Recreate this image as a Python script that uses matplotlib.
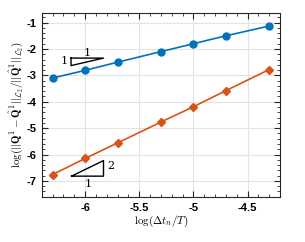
import matplotlib
matplotlib.use("Agg")
import matplotlib.pyplot as plt
from matplotlib.ticker import MultipleLocator

# log10(dt/T) values
log_dt = [-6.30, -6.00, -5.70, -5.30, -5.00, -4.70, -4.30]
err_blue = [-3.10, -2.81, -2.50, -2.10, -1.80, -1.50, -1.13]
err_orange = [-6.76, -6.15, -5.56, -4.77, -4.19, -3.58, -2.78]

x_ticks = [-6, -5.5, -5, -4.5]
x_tick_labels = ["-6", "-5.5", "-5", "-4.5"]
y_ticks = [-7, -6, -5, -4, -3, -2, -1]
y_tick_labels = ["-7", "-6", "-5", "-4", "-3", "-2", "-1"]

plt.rcParams["mathtext.fontset"] = "cm"

fig = plt.figure(figsize=(3.05, 2.42), dpi=100)
ax = fig.add_axes([0.137, 0.186, 0.781, 0.762])

ax.plot(log_dt, err_blue, color="#0072BD", marker="o", markersize=5, lw=1.2)
ax.plot(log_dt, err_orange, color="#D95319", marker="D", markersize=4.2, lw=1.2)

# slope triangles
ax.plot([-6.13, -5.83, -6.13, -6.13], [-2.345, -2.345, -2.63, -2.345], color="k", lw=1)
ax.text(-5.98, -2.15, "1", fontsize=8, family="DejaVu Serif", ha="center", va="center")
ax.text(-6.19, -2.46, "1", fontsize=8, family="DejaVu Serif", ha="center", va="center")
ax.plot([-6.125, -5.83, -5.83, -6.125], [-6.82, -6.82, -6.23, -6.82], color="k", lw=1)
ax.text(-5.76, -6.45, "2", fontsize=8, family="DejaVu Serif", ha="center", va="center")
ax.text(-5.975, -7.13, "1", fontsize=8, family="DejaVu Serif", ha="center", va="center")

ax.set_xlim(-6.4, -4.2)
ax.set_ylim(-7.61, -0.62)
ax.set_xticks(x_ticks)
ax.set_xticklabels(x_tick_labels, fontsize=8, fontweight="bold", family="Liberation Sans")
ax.set_yticks(y_ticks)
ax.set_yticklabels(y_tick_labels, fontsize=8, fontweight="bold", family="Liberation Sans")
ax.xaxis.set_minor_locator(MultipleLocator(0.1))
ax.yaxis.set_minor_locator(MultipleLocator(0.2))
ax.tick_params(which="both", direction="in", top=True, right=True, color="#262626")
ax.tick_params(which="major", length=4, width=0.8, pad=4)
ax.tick_params(which="minor", length=2, width=0.6)
ax.grid(True, which="major", color="#e3e3e3", lw=0.8)
ax.set_axisbelow(True)
for s in ax.spines.values():
    s.set_color("#262626")
    s.set_linewidth(0.8)

ax.set_xlabel(r"$\log(\Delta t_n/T)$", fontsize=8, labelpad=1)
ax.set_ylabel(r"$\log(||\mathbf{Q}^1-\hat{\mathbf{Q}}^1||_{\mathcal{L}_2}/||\hat{\mathbf{Q}}^1||_{\mathcal{L}_2})$",
              fontsize=8, labelpad=1)

fig.savefig("out.png", dpi=100)
